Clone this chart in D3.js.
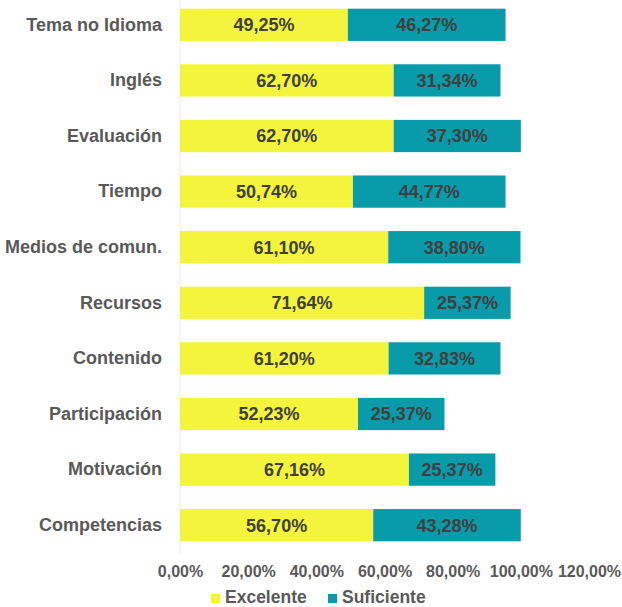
<!DOCTYPE html>
<html><head><meta charset="utf-8">
<script src="https://cdn.jsdelivr.net/npm/d3@7"></script>
<style>body{margin:0;background:#fff;} svg{display:block;font-family:"Liberation Sans",Arial,sans-serif;}</style>
</head><body>
<script>
const categories = ["Tema no Idioma","Inglés","Evaluación","Tiempo","Medios de comun.","Recursos","Contenido","Participación","Motivación","Competencias"];
const excelente = [49.25,62.70,62.70,50.74,61.10,71.64,61.20,52.23,67.16,56.70];
const suficiente = [46.27,31.34,37.30,44.77,38.80,25.37,32.83,25.37,25.37,43.28];
const seriesNames = ["Excelente","Suficiente"];
const ticks = [0,20,40,60,80,100,120];

const W=622,H=607;
const colors=["#F3F43B","#089BAA"];
const svg=d3.select("body").append("svg").attr("width",W).attr("height",H);
const x=d3.scaleLinear().domain([0,120]).range([180,589]);
const y=d3.scaleBand().domain(categories).range([-3,553]).paddingInner(0.42).paddingOuter(0.21);
const fmt=v=>v.toFixed(2).replace(".",",")+"%";

svg.append("line").attr("x1",x(0)).attr("x2",x(0)).attr("y1",0).attr("y2",553).attr("stroke","#ececec").attr("stroke-width",1);

const data=categories.map((c,i)=>({c,vals:[excelente[i],suficiente[i]]}));
data.forEach(d=>{
  let acc=0;
  d.vals.forEach((v,j)=>{
    const g=svg.append("g");
    g.append("rect").attr("x",x(acc)).attr("y",y(d.c)).attr("width",x(acc+v)-x(acc)).attr("height",y.bandwidth()).attr("fill",colors[j]);
    g.append("text").attr("x",(x(acc)+x(acc+v))/2).attr("y",y(d.c)+y.bandwidth()/2).attr("dy","0.35em")
      .attr("text-anchor","middle").attr("font-size","18px").attr("font-weight","bold").attr("fill","#404040").text(fmt(v));
    acc+=v;
  });
});

const ya=svg.append("g").attr("transform","translate(162,0)").call(d3.axisLeft(y).tickSize(0).tickPadding(0));
ya.select(".domain").remove();
ya.selectAll("text").attr("font-size","18px").attr("font-weight","bold").attr("fill","#595959").attr("font-family","Liberation Sans, Arial, sans-serif");

const xa=svg.append("g").attr("transform","translate(0,566)").call(d3.axisBottom(x).tickValues(ticks).tickSize(0).tickPadding(0).tickFormat(d=>d.toFixed(2).replace(".",",")+"%"));
xa.select(".domain").remove();
xa.selectAll("text").attr("font-size","16px").attr("font-weight","bold").attr("fill","#595959").attr("font-family","Liberation Sans, Arial, sans-serif");

const legX=[211,328];
seriesNames.forEach((n,i)=>{
  svg.append("rect").attr("x",legX[i]).attr("y",594).attr("width",9).attr("height",9).attr("fill",colors[i]);
  svg.append("text").attr("x",legX[i]+14).attr("y",602.5).attr("font-size","17.5px").attr("font-weight","bold").attr("fill","#595959").text(n);
});
</script>
</body></html>
